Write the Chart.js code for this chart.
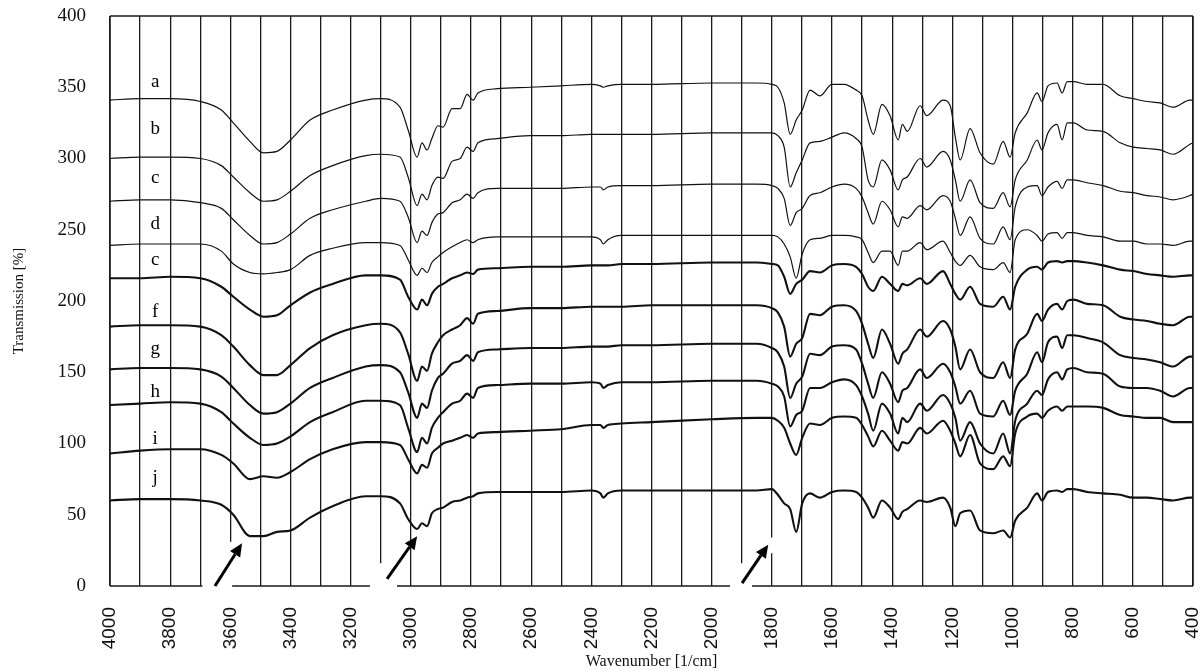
<!DOCTYPE html>
<html><head><meta charset="utf-8">
<script src="https://cdn.jsdelivr.net/npm/chart.js@4.4.1/dist/chart.umd.min.js"></script>
<style>html,body{margin:0;padding:0;background:#fff;}#wrap{width:1204px;height:671px;}</style>
</head><body><div id="wrap"><canvas id="c" width="1204" height="671"></canvas></div>
<script>
// Wavenumber grid (1/cm)
const wavenumbers = [4000,3900,3800,3700,3630,3590,3535,3490,3445,3400,
 3335,3260,3150,3100,3036,3009,2979,2963,2946,2930,
 2910,2893,2863,2836,2813,2793,2777,2713,2604,2500,
 2400,2370,2360,2345,2300,2200,2000,1850,1800,1780,
 1759,1739,1719,1699,1673,1640,1600,1560,1520,1500,
 1480,1463,1434,1407,1380,1366,1350,1307,1285,1231,
 1207,1190,1174,1141,1108,1064,1031,1008,991,951,
 918,902,882,852,835,818,798,752,699,642,
 599,553,509,466,410,400];

const traceA = [341,342,342,340,334,325,312,304,305,313,
 327,334,341,342,336,320,301,311,306,314,
 323,322,335,335,345,341,346,349,350,351,
 352,351,350,351,352,352,353,353,352,350,
 339,317,327,334,348,344,352,352,348,344,
 327,317,338,330,313,324,319,337,330,341,
 337,315,299,321,304,296,312,301,318,332,
 346,340,351,353,346,354,354,352,352,344,
 342,340,339,336,341,341];
const traceB = [300,301,301,300,295,287,276,270,271,277,
 288,295,302,303,301,287,267,275,271,281,
 287,286,298,300,308,305,311,314,316,316,
 317,317,317,317,317,317,318,318,318,316,
 308,280,290,299,311,312,315,318,314,308,
 285,280,299,292,278,285,287,300,294,305,
 299,285,270,285,269,265,276,266,285,299,
 313,306,318,324,313,325,325,320,319,311,
 308,307,306,303,310,311];
const traceC = [270,271,271,269,265,257,246,240,241,247,
 258,264,270,272,270,259,241,249,246,255,
 261,262,269,271,275,272,276,279,279,279,
 280,280,278,280,281,281,282,282,281,279,
 272,253,262,265,274,276,280,282,279,273,
 262,254,270,264,252,259,258,267,264,274,
 270,258,246,259,244,240,252,243,266,280,
 281,274,280,284,279,285,285,283,281,277,
 276,274,273,271,274,275];
const traceD = [239,240,240,240,235,226,220,219,220,222,
 232,237,241,241,239,229,218,223,220,227,
 231,234,238,241,243,241,243,245,245,245,
 245,243,240,243,246,246,246,246,246,245,
 240,231,216,233,243,244,246,246,245,243,
 234,227,235,235,225,235,235,241,236,242,
 234,228,225,232,224,222,227,220,243,250,
 246,242,247,248,244,248,248,246,245,242,
 242,240,240,239,242,242];
const traceE = [216,216,217,216,210,203,194,189,190,197,
 206,212,218,218,215,203,194,201,197,205,
 210,212,216,218,220,219,222,223,224,224,
 225,225,225,225,226,226,227,227,226,225,
 217,205,212,215,221,220,225,226,224,219,
 210,207,217,212,207,212,211,216,212,221,
 212,205,201,210,198,196,203,194,210,222,
 224,222,227,228,227,228,228,227,225,222,
 221,219,218,217,218,218];
const traceF = [182,183,183,182,176,168,155,148,148,155,
 167,176,183,184,178,163,144,154,151,163,
 171,176,180,183,188,184,191,193,195,195,
 196,196,196,196,196,197,197,197,195,192,
 182,161,170,174,191,190,196,197,193,184,
 170,160,180,170,156,163,166,180,175,186,
 180,168,152,166,150,146,157,146,166,177,
 191,186,194,198,194,200,201,198,197,189,
 187,186,184,183,189,189];
const traceG = [152,153,153,152,147,139,127,121,122,128,
 139,146,154,155,150,136,118,128,125,137,
 146,149,156,158,162,158,164,166,167,167,
 168,168,168,168,169,169,170,170,167,164,
 154,132,142,147,163,162,168,169,166,156,
 142,132,150,142,129,137,139,152,146,156,
 150,140,128,137,121,119,130,120,137,149,
 164,157,171,175,167,176,176,174,171,162,
 160,159,157,154,161,161];
const traceH = [127,128,129,128,122,114,104,99,100,105,
 115,122,130,130,127,111,94,104,100,111,
 118,122,128,130,135,132,139,141,142,142,
 143,142,139,141,143,143,144,144,142,140,
 133,112,120,123,139,139,143,145,141,133,
 121,109,128,121,107,118,115,128,123,134,
 128,118,102,115,100,93,107,93,116,128,
 137,134,145,150,145,152,153,150,149,140,
 139,139,137,133,139,139];
const traceI = [93,95,96,96,92,86,75,77,76,80,
 89,96,101,101,99,89,79,85,83,93,
 97,100,102,104,106,104,107,108,109,110,
 113,113,111,113,114,115,117,118,118,116,
 111,100,92,104,114,113,118,119,118,113,
 105,98,109,102,95,101,100,111,107,116,
 109,100,91,106,86,82,91,84,107,119,
 121,118,123,126,123,126,126,126,125,120,
 119,118,118,115,115,115];
const traceJ = [60,61,61,60,57,50,35,35,38,39,
 48,56,63,63,58,47,40,44,42,51,
 54,55,59,60,62,63,65,66,66,66,
 67,65,62,65,67,67,67,67,68,64,
 58,54,38,58,65,62,66,67,66,62,
 55,48,60,55,47,52,54,60,59,62,
 55,42,51,53,39,37,39,34,46,55,
 65,60,66,67,66,68,68,66,65,64,
 62,62,61,60,62,62];

const traceNames = ['a','b','c','d','c','f','g','h','i','j'];
const traceNameLevels = [354,321,286,254,229,192,166,136,103,76];
const traceNameWavenumber = 3850;
const yTicks = [0,50,100,150,200,250,300,350,400];

// Annotation arrows (wavenumber, value) tail -> head
const arrowTails = [[3651,0],[3079,5],[1899,2]];
const arrowHeads = [[3561,30],[2979,35],[1812,29]];
// Blank areas in the printed grid near the arrows [wnFrom, wnTo, vFrom, vTo]
const gridGaps = [[3693,3594,-3,31],[3136,3046,-3,16],[1939,1866,-3,16],[1808,1792,23,34]];

const allTraces = [traceA,traceB,traceC,traceD,traceE,traceF,traceG,traceH,traceI,traceJ];
const datasets = allTraces.map((vals, k) => ({
  label: traceNames[k],
  data: wavenumbers.map((w, i) => ({x: w, y: vals[i]})),
  showLine: true,
  borderColor: '#111',
  borderWidth: k < 4 ? 1.2 : 2.1,
  pointRadius: 0,
  cubicInterpolationMode: 'monotone',
  fill: false
}));

const annot = {
  id: 'annot',
  beforeDatasetsDraw(chart) {
    const {ctx, chartArea: a, scales: {x, y}} = chart;
    ctx.save();
    ctx.strokeStyle = '#1a1a1a';
    ctx.lineWidth = 1.4;
    ctx.beginPath();
    ctx.moveTo(a.left, a.top); ctx.lineTo(a.right, a.top);
    ctx.moveTo(a.left, a.bottom); ctx.lineTo(a.right, a.bottom);
    ctx.moveTo(a.left, a.top); ctx.lineTo(a.left, a.bottom);
    ctx.moveTo(a.right, a.top); ctx.lineTo(a.right, a.bottom);
    ctx.stroke();
    ctx.fillStyle = '#fff';
    gridGaps.forEach(g => {
      const x1 = x.getPixelForValue(g[0]), x2 = x.getPixelForValue(g[1]);
      const y1 = y.getPixelForValue(g[3]), y2 = y.getPixelForValue(g[2]);
      ctx.fillRect(Math.min(x1,x2), y1, Math.abs(x2-x1), y2-y1);
    });
    ctx.restore();
  },
  afterDatasetsDraw(chart) {
    const {ctx, scales: {x, y}} = chart;
    ctx.save();
    ctx.strokeStyle = '#000'; ctx.fillStyle = '#000';
    ctx.lineWidth = 3;
    arrowTails.forEach((t, i) => {
      const h = arrowHeads[i];
      const x0 = x.getPixelForValue(t[0]), y0 = y.getPixelForValue(t[1]);
      const x1 = x.getPixelForValue(h[0]), y1 = y.getPixelForValue(h[1]);
      const ang = Math.atan2(y1 - y0, x1 - x0);
      const L = 13, W = 6;
      const bx = x1 - L*Math.cos(ang), by = y1 - L*Math.sin(ang);
      ctx.beginPath(); ctx.moveTo(x0, y0); ctx.lineTo(bx, by); ctx.stroke();
      ctx.beginPath();
      ctx.moveTo(x1, y1);
      ctx.lineTo(bx + W*Math.sin(ang), by - W*Math.cos(ang));
      ctx.lineTo(bx - W*Math.sin(ang), by + W*Math.cos(ang));
      ctx.closePath(); ctx.fill();
    });
    ctx.font = '19px "Liberation Serif", "DejaVu Serif", serif';
    ctx.textAlign = 'center'; ctx.textBaseline = 'middle';
    traceNames.forEach((n, i) => {
      ctx.fillText(n, x.getPixelForValue(traceNameWavenumber), y.getPixelForValue(traceNameLevels[i]));
    });
    ctx.restore();
  }
};

new Chart(document.getElementById('c'), {
  type: 'scatter',
  data: {datasets},
  options: {
    responsive: false,
    animation: false,
    devicePixelRatio: 1,
    layout: {padding: {left: 0, top: 16, right: 11, bottom: 0}},
    plugins: {legend: {display: false}, tooltip: {enabled: false}},
    scales: {
      x: {
        type: 'linear', reverse: true, min: 400, max: 4000,
        afterFit(s) { s.height = 85; s.paddingLeft = 0; s.paddingRight = 0; },
        grid: {display: true, color: '#1a1a1a', lineWidth: 1.3, drawTicks: false},
        border: {display: false},
        ticks: {
          stepSize: 100, autoSkip: false, minRotation: 90, maxRotation: 90,
          padding: 21, color: '#111',
          font: {family: '"Liberation Sans", Arial, sans-serif', size: 19},
          callback: v => (v % 200 === 0 ? String(v) : '')
        },
        title: {display: true, text: 'Wavenumber [1/cm]', color: '#111',
          font: {family: '"Liberation Serif", serif', size: 16}, padding: {top: 0, bottom: 0}}
      },
      y: {
        min: 0, max: 400,
        afterFit(s) { s.width = 110; s.paddingTop = 0; s.paddingBottom = 0; },
        afterBuildTicks(s) { s.ticks = yTicks.map(v => ({value: v})); },
        grid: {display: false, drawTicks: false},
        border: {display: false},
        ticks: {padding: 24, color: '#111',
          font: {family: '"Liberation Serif", "DejaVu Serif", serif', size: 19}},
        title: {display: true, text: 'Transmission [%]', color: '#111',
          font: {family: '"Liberation Serif", serif', size: 15}, padding: {top: 10, bottom: 0}}
      }
    }
  },
  plugins: [annot]
});
</script></body></html>
